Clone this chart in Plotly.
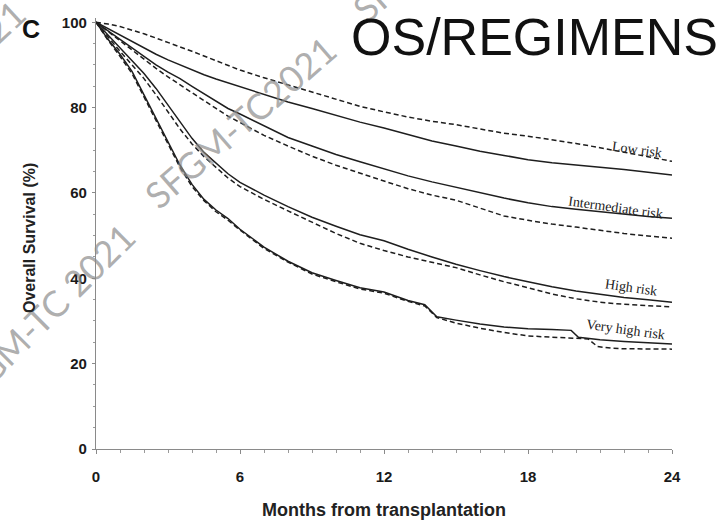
import plotly.graph_objects as go

# ---------------- data ----------------
months = [0, 0.5, 1, 1.5, 2, 2.5, 3, 3.5, 4, 4.5, 5, 5.5, 6, 7, 8, 9, 10, 11, 12,
          13, 14, 15, 16, 17, 18, 19, 20, 21, 22, 23, 24]

low_dashed = [100, 99.6, 99.0, 98.2, 97.3, 96.3, 95.3, 94.3, 93.2, 92.1, 91.0, 89.9, 88.8,
              87.0, 85.3, 83.6, 82.0, 80.3, 79.0, 77.8, 76.8, 76.0, 75.0, 74.0, 73.3,
              72.5, 71.6, 70.6, 69.6, 68.5, 67.4]
low_solid = [100, 98.5, 97.0, 95.4, 93.8, 92.5, 91.2, 90.0, 88.8, 87.7, 86.7, 85.8, 84.8,
             83.0, 81.3, 79.8, 78.2, 76.6, 75.2, 73.7, 72.2, 71.0, 69.8, 68.8, 67.8,
             67.1, 66.5, 66.0, 65.5, 64.9, 64.2]
int_solid = [100, 98.0, 96.0, 94.0, 92.0, 90.0, 88.3, 86.8, 85.0, 83.2, 81.4, 79.8, 78.5,
             75.8, 73.0, 71.0, 69.0, 67.3, 65.6, 64.0, 62.6, 61.3, 60.0, 58.8, 57.7,
             56.8, 56.2, 55.6, 55.0, 54.5, 54.1]
int_dashed = [100, 97.8, 95.6, 93.4, 91.2, 89.2, 87.2, 85.3, 83.4, 81.6, 79.8, 78.0, 76.5,
              73.5, 71.0, 68.6, 66.5, 64.6, 62.8, 61.0, 59.5, 58.3, 56.5, 54.6, 53.6,
              52.7, 52.0, 51.2, 50.5, 49.9, 49.4]
high_solid = [100, 97.0, 94.0, 91.0, 88.0, 84.5, 80.5, 76.5, 72.8, 69.5, 67.0, 64.5, 62.5,
              59.5, 56.8, 54.3, 52.2, 50.2, 48.8, 46.8, 45.0, 43.3, 41.8, 40.4, 39.2,
              38.0, 37.0, 36.2, 35.5, 35.0, 34.4]
high_dashed = [100, 96.5, 93.2, 90.0, 86.8, 83.0, 79.0, 75.0, 71.5, 68.5, 66.0, 63.5, 61.5,
               58.5, 55.8, 53.2, 50.5, 48.2, 46.5, 45.0, 43.8, 42.5, 40.8, 39.2, 37.8,
               36.3, 35.2, 34.4, 33.9, 33.6, 33.3]

vh_months_solid = [0, 0.5, 1, 1.5, 2, 2.5, 3, 3.5, 4, 4.5, 5, 5.5, 6, 7, 8, 9, 10, 11, 12,
                   13, 13.7, 14.2, 15, 16, 17, 18, 19, 19.8, 20.1, 21, 22, 23, 24]
vh_solid = [100, 96.0, 92.5, 88.5, 83.0, 77.5, 72.0, 66.5, 62.0, 58.5, 56.0, 54.0, 51.5,
            47.3, 44.0, 41.3, 39.5, 37.8, 36.8, 34.8, 33.8, 31.0, 30.2, 29.3, 28.6, 28.2,
            28.0, 27.8, 26.2, 25.6, 25.2, 24.9, 24.6]
vh_months_dashed = [0, 0.5, 1, 1.5, 2, 2.5, 3, 3.5, 4, 4.5, 5, 5.5, 6, 7, 8, 9, 10, 11, 12,
                    13, 13.7, 14.2, 15, 16, 17, 18, 19, 20, 20.5, 20.9, 21.5, 22, 24]
vh_dashed = [100, 95.8, 92.0, 88.0, 82.5, 77.0, 71.5, 66.0, 61.5, 58.2, 55.6, 53.6, 51.3,
             47.0, 43.8, 41.0, 39.2, 37.5, 36.5, 34.6, 33.5, 30.8, 29.5, 28.3, 27.3, 26.5,
             26.2, 26.0, 25.8, 24.0, 23.6, 23.5, 23.4]

x_ticks = [0, 6, 12, 18, 24]
y_ticks = [0, 20, 40, 60, 80, 100]
group_labels = ["Low risk", "Intermediate risk", "High risk", "Very high risk"]

# ---------------- figure ----------------
W, H = 722, 521
L, R, T, B = 96, 50, 18, 72
PW, PH = W - L - R, H - T - B


def px(x):
    return (x - L) / PW


def py(y):
    return (H - B - y) / PH


LINE = "#1e1e1e"
series = [
    (months, low_dashed, "dash"),
    (months, low_solid, "solid"),
    (months, int_solid, "solid"),
    (months, int_dashed, "dash"),
    (months, high_solid, "solid"),
    (months, high_dashed, "dash"),
    (vh_months_solid, vh_solid, "solid"),
    (vh_months_dashed, vh_dashed, "dash"),
]

fig = go.Figure()
for xs, ys, dash in series:
    fig.add_trace(go.Scatter(
        x=xs, y=ys, mode="lines",
        line=dict(color=LINE, width=1.5, dash="5px,3px" if dash == "dash" else "solid"),
        showlegend=False, hoverinfo="skip"))

annotations = []
# watermarks (partly outside the page, as in the reference)
wm_font = dict(family="Lato, Open Sans, sans-serif", size=36, color="rgba(140,140,140,0.7)")
for cx, cy, ang, txt in [(240, 122, -41, "SFGM-TC2021"),
                         (40, 318, -45, "SFGM-TC 2021"),
                         (451, -67, -41, "SFGM-TC 2021"),
                         (-72, 92, -43, "SFGM-TC 2021")]:
    annotations.append(dict(xref="paper", yref="paper", x=px(cx), y=py(cy),
                            text=txt, showarrow=False, textangle=ang,
                            font=wm_font, xanchor="center", yanchor="middle"))

# curve labels
lab_font = dict(family="Liberation Serif, Times New Roman, serif", size=14, color="#222")
for (cx, cy), txt in zip([(637, 149), (615, 207), (631, 287), (625, 329)], group_labels):
    annotations.append(dict(xref="paper", yref="paper", x=px(cx), y=py(cy), text=txt,
                            showarrow=False, textangle=8, font=lab_font,
                            xanchor="center", yanchor="middle"))

# panel letter and title
annotations.append(dict(xref="paper", yref="paper", x=px(31), y=py(29), text="<b>C</b>",
                        showarrow=False, xanchor="center", yanchor="middle",
                        font=dict(family="Liberation Sans, Arial, sans-serif", size=25, color="#111")))
annotations.append(dict(xref="paper", yref="paper", x=px(349), y=py(37), text="OS/REGIMENS",
                        showarrow=False, xanchor="left", yanchor="middle",
                        font=dict(family="Liberation Sans, Arial, sans-serif", size=52, color="#111")))
# axis titles
annotations.append(dict(xref="paper", yref="paper", x=px(384), y=py(510),
                        text="<b>Months from transplantation</b>", showarrow=False,
                        xanchor="center", yanchor="middle",
                        font=dict(family="Liberation Sans, Arial, sans-serif", size=18, color="#222")))
annotations.append(dict(xref="paper", yref="paper", x=px(30), y=py(238),
                        text="<b>Overall Survival (%)</b>", showarrow=False, textangle=-90,
                        xanchor="center", yanchor="middle",
                        font=dict(family="Liberation Sans, Arial, sans-serif", size=16, color="#222")))

tick_font = dict(family="Liberation Sans, Arial, sans-serif", size=15, color="#1a1a1a", weight="bold")

fig.update_layout(
    width=W, height=H,
    margin=dict(l=L, r=R, t=T, b=B, pad=0),
    paper_bgcolor="white", plot_bgcolor="white",
    annotations=annotations,
    xaxis=dict(range=[0, 24], tickvals=x_ticks, ticktext=[str(v) for v in x_ticks],
               showgrid=False, zeroline=False, showline=True, linecolor="#8a8a8a",
               linewidth=1.3, ticks="outside", ticklen=4, tickcolor="#8a8a8a",
               tickfont=tick_font, ticklabelstandoff=10,
               minor=dict(dtick=1, ticks="outside", ticklen=3, tickcolor="#9a9a9a", showgrid=False)),
    yaxis=dict(range=[0, 101], tickvals=y_ticks, ticktext=[str(v) for v in y_ticks],
               showgrid=False, zeroline=False, showline=True, linecolor="#8a8a8a",
               linewidth=1.3, ticks="outside", ticklen=3, tickcolor="#8a8a8a",
               tickfont=tick_font, ticklabelstandoff=2,
               minor=dict(dtick=5, ticks="outside", ticklen=2, tickcolor="#9a9a9a", showgrid=False)),
)

fig.write_html("out.html")
